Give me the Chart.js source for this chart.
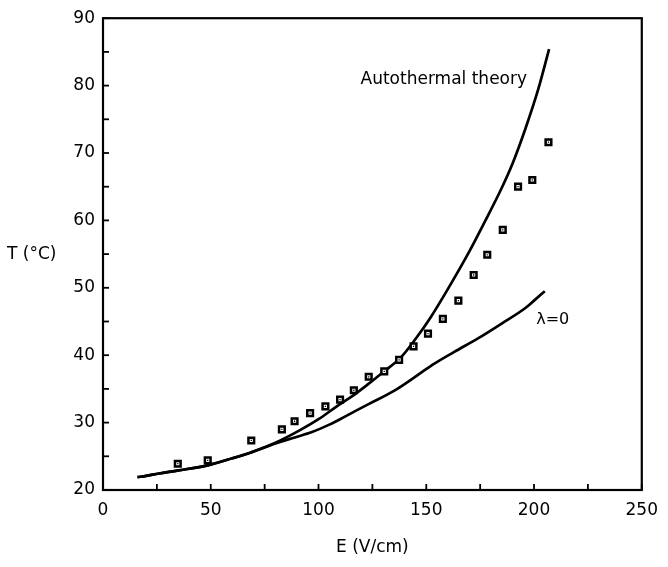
<!DOCTYPE html>
<html>
<head>
<meta charset="utf-8">
<script src="https://cdn.jsdelivr.net/npm/chart.js@4"></script>
<style>
  html, body { margin: 0; padding: 0; background: #fff; }
  #wrap { width: 668px; height: 567px; }
</style>
</head>
<body>
<div id="wrap"><canvas id="chart" width="668" height="567"></canvas></div>
<script>
/* ===============================
   Data
================================*/
// Autothermal theory curve
const eAuto = [16, 20, 26, 35, 49, 60, 68, 80, 91, 100, 108, 116, 123, 130, 138, 145, 152, 160, 170, 177, 185, 190, 196, 202, 207];
const tAuto = [21.9, 22.1, 22.45, 22.9, 23.7, 24.7, 25.5, 27.0, 28.8, 30.5, 32.3, 34.0, 35.7, 37.5, 39.6, 42.4, 45.6, 49.8, 55.4, 59.7, 64.8, 68.4, 73.6, 79.5, 85.4];

// lambda = 0 curve
const eLam = [16, 20, 26, 35, 49, 60, 68, 80, 89, 97, 105, 110, 117, 123, 135, 144, 153, 163, 174, 185, 196, 200, 205];
const tLam = [21.9, 22.1, 22.45, 22.9, 23.7, 24.7, 25.5, 26.9, 27.8, 28.6, 29.7, 30.5, 31.7, 32.7, 34.7, 36.6, 38.6, 40.5, 42.5, 44.7, 47.0, 48.1, 49.5];

// measured points
const eMeas = [34.7, 48.6, 68.8, 83.0, 88.9, 96.1, 103.2, 110.0, 116.4, 123.3, 130.5, 137.4, 144.1, 150.8, 157.7, 164.9, 172.0, 178.3, 185.5, 192.6, 199.2, 206.7];
const tMeas = [23.9, 24.4, 27.35, 29.0, 30.2, 31.4, 32.4, 33.4, 34.8, 36.8, 37.6, 39.3, 41.3, 43.2, 45.4, 48.1, 51.9, 54.9, 58.6, 65.0, 66.0, 71.6];

// axis ticks
const xTicks = [0, 50, 100, 150, 200, 250];
const yTicks = [20, 30, 40, 50, 60, 70, 80, 90];

const FONT = "'DejaVu Sans', sans-serif";

function toXY(xs, ys) {
  return xs.map((v, i) => ({ x: v, y: ys[i] }));
}

/* ===============================
   Frame, inward ticks, labels
================================*/
const framePlugin = {
  id: 'frame',
  afterDraw(chart) {
    const { ctx, chartArea: a } = chart;
    const xs = chart.scales.x, ys = chart.scales.y;
    ctx.save();
    ctx.strokeStyle = '#000';
    ctx.lineWidth = 2.2;
    ctx.strokeRect(a.left, a.top, a.right - a.left, a.bottom - a.top);

    // minor + major ticks pointing inside
    ctx.lineWidth = 1.8;
    for (let i = 0; i < xTicks.length; i++) {
      const vals = [xTicks[i]];
      if (i < xTicks.length - 1) vals.push((xTicks[i] + xTicks[i + 1]) / 2);
      vals.forEach(v => {
        const px = xs.getPixelForValue(v);
        ctx.beginPath();
        ctx.moveTo(px, a.bottom);
        ctx.lineTo(px, a.bottom - 6);
        ctx.stroke();
      });
    }
    for (let i = 0; i < yTicks.length; i++) {
      const vals = [yTicks[i]];
      if (i < yTicks.length - 1) vals.push((yTicks[i] + yTicks[i + 1]) / 2);
      vals.forEach(v => {
        const py = ys.getPixelForValue(v);
        ctx.beginPath();
        ctx.moveTo(a.left, py);
        ctx.lineTo(a.left + 6, py);
        ctx.stroke();
      });
    }

    // text
    ctx.fillStyle = '#000';
    ctx.textBaseline = 'middle';
    ctx.textAlign = 'left';
    ctx.font = '17px ' + FONT;
    ctx.fillText('Autothermal theory', xs.getPixelForValue(119.5), ys.getPixelForValue(80.9));
    ctx.font = '16px ' + FONT;
    ctx.fillText('\u03bb=0', xs.getPixelForValue(201), ys.getPixelForValue(45.3));

    ctx.font = '17px ' + FONT;
    ctx.fillText('T (\u00b0C)', 7, 255);
    ctx.textAlign = 'center';
    ctx.fillText('E (V/cm)', (a.left + a.right) / 2, 548);
    ctx.restore();
  }
};

/* ===============================
   Chart
================================*/
new Chart(document.getElementById('chart'), {
  type: 'scatter',
  data: {
    datasets: [
      {
        label: 'centre dots',
        data: toXY(eMeas, tMeas),
        pointStyle: 'rect',
        pointRadius: 0.9,
        backgroundColor: '#000',
        borderWidth: 0,
        order: 0
      },
      {
        label: 'Measured',
        data: toXY(eMeas, tMeas),
        pointStyle: 'rect',
        pointRadius: 4.0,
        backgroundColor: '#fff',
        borderColor: '#000',
        borderWidth: 2.5,
        order: 1
      },
      {
        label: 'Autothermal theory',
        data: toXY(eAuto, tAuto),
        showLine: true,
        pointRadius: 0,
        borderColor: '#000',
        borderWidth: 2.7,
        cubicInterpolationMode: 'monotone',
        order: 2
      },
      {
        label: 'lambda = 0',
        data: toXY(eLam, tLam),
        showLine: true,
        pointRadius: 0,
        borderColor: '#000',
        borderWidth: 2.7,
        cubicInterpolationMode: 'monotone',
        order: 3
      }
    ]
  },
  options: {
    responsive: false,
    animation: false,
    layout: { padding: { top: 14, right: 15, left: 0, bottom: 0 } },
    plugins: {
      legend: { display: false },
      tooltip: { enabled: false }
    },
    scales: {
      x: {
        type: 'linear',
        min: 0,
        max: 250,
        afterFit(scale) { scale.height = 77; },
        afterBuildTicks(scale) { scale.ticks = xTicks.map(v => ({ value: v })); },
        grid: { display: false, drawTicks: false },
        border: { display: false },
        ticks: {
          color: '#000',
          padding: 10,
          maxRotation: 0,
          font: { family: FONT, size: 17 }
        }
      },
      y: {
        type: 'linear',
        min: 20,
        max: 90,
        afterFit(scale) { scale.width = 103; },
        afterBuildTicks(scale) { scale.ticks = yTicks.map(v => ({ value: v })); },
        grid: { display: false, drawTicks: false },
        border: { display: false },
        ticks: {
          color: '#000',
          padding: 8,
          font: { family: FONT, size: 17 }
        }
      }
    }
  },
  plugins: [framePlugin]
});
</script>
</body>
</html>
